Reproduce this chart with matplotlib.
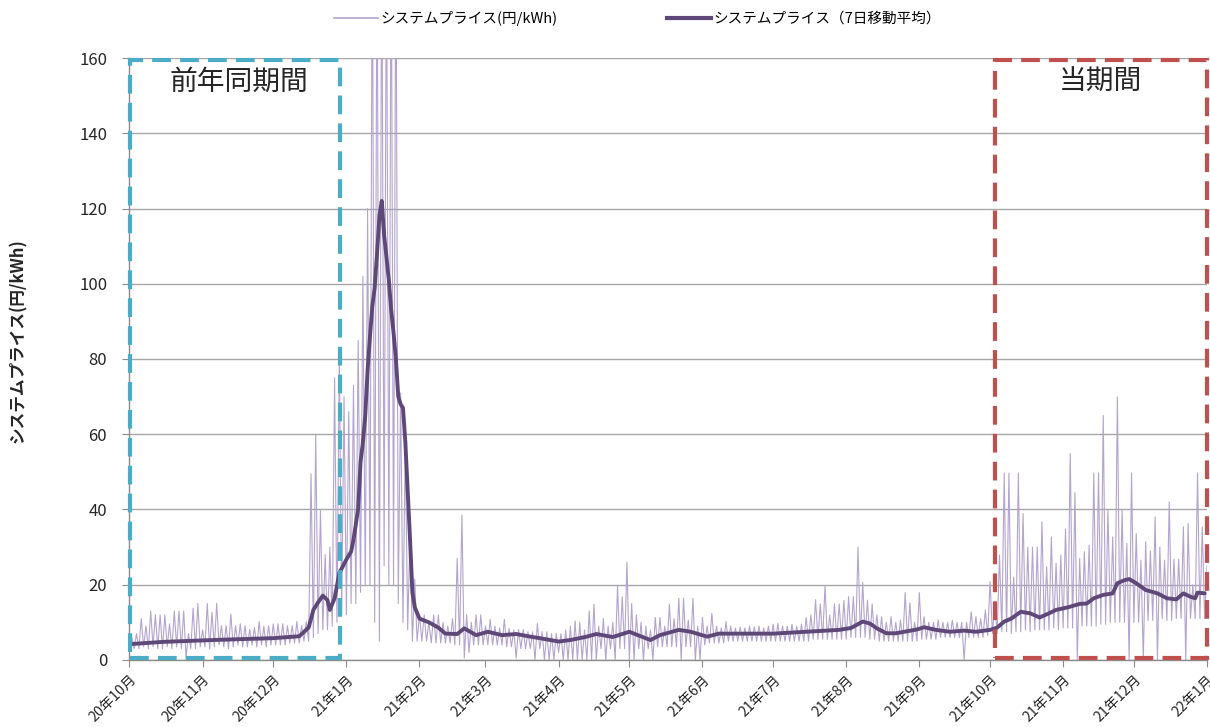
import matplotlib
matplotlib.use('Agg')
import matplotlib.pyplot as plt
import matplotlib.dates as mdates
import pandas as pd
from matplotlib.patches import Rectangle
from matplotlib.lines import Line2D

plt.rcParams['font.family'] = ['Noto Sans CJK JP', 'DejaVu Sans']

# ---- data: system price, 2-day buckets from 2020-10-01 (daily high / low) ----
hi_2020_10 = [6, 7, 11, 9, 13, 12, 12, 12, 9.6, 13, 13, 13, 7, 13.8, 15, 8]
hi_2020_11 = [15, 12.7, 15.1, 9.1, 9.1, 12.2, 9.1, 9.6, 9.1, 8.1, 8.6, 10.2, 9, 9.1, 9.6]
hi_2020_12 = [9.6, 9.6, 9.1, 9.1, 10.2, 9.1, 10.2, 49.5, 60, 39.7, 28, 30, 75, 80, 70]
hi_2021_01 = [66, 73, 85, 102, 120, 200, 200, 200, 200, 200, 200, 71, 58, 34, 21.5, 12]
hi_2021_02 = [12, 10, 12, 12, 10, 9, 11, 27, 38.5, 12, 10, 12, 12, 9]
hi_2021_03 = [10.8, 9, 8.5, 10.8, 8.4, 8, 8.1, 8.1, 7.5, 7.5, 9.7, 7.5, 7.5, 7, 7]
hi_2021_04 = [7, 8, 9, 10.4, 10, 8, 13, 14.8, 9, 11, 9, 10, 19.7, 16.8, 26]
hi_2021_05 = [15, 12, 10, 9, 8, 11.3, 11.3, 9, 14.8, 11, 16.4, 16.4, 10.6, 16.4, 9, 11.3]
hi_2021_06 = [9, 12.4, 9, 8.5, 10.2, 9, 8.5, 8.8, 8.5, 9, 8.8, 9, 8.5, 9, 9.5]
hi_2021_07 = [9.7, 9, 9, 9.5, 9, 9.5, 11.3, 12, 16, 14.9, 19.7, 12, 14.9, 14.9, 15.8, 16.8]
hi_2021_08 = [16.8, 30, 20.6, 15.9, 14.9, 12, 11.5, 10, 11.5, 10, 10.6, 17.9, 15.2, 10, 17.9]
hi_2021_09 = [11.5, 10, 10, 10.6, 10, 10, 10.6, 10, 10, 10, 12.8, 11.5, 11, 13.3, 20.8]
hi_2021_10 = [15, 27.9, 49.7, 49.7, 22, 49.7, 38.9, 30, 30, 30, 36.7, 24.8, 32.7, 25.7, 27.9, 34.8]
hi_2021_11 = [54.9, 44.5, 27, 28.8, 30.5, 49.7, 49.7, 65, 39.8, 32.7, 69.9, 39.8, 31, 49.7]
hi_2021_12 = [33.6, 26.5, 31.4, 29, 38, 30, 26.5, 42, 26.8, 26.8, 35.4, 36.3, 20, 49.7, 35.4, 25]

lo_2020_10 = [3.5, 3, 3, 3.5, 3, 3.5, 3, 3, 3.5, 3, 3.5, 3, 0.5, 3, 3, 3.5]
lo_2020_11 = [3.5, 3, 3.5, 4, 3.5, 3, 3.5, 4, 3.5, 3.5, 4, 3.5, 4, 3.5, 4]
lo_2020_12 = [4, 4, 4, 4.5, 4.5, 4.5, 5, 5, 6, 7, 8, 8, 9, 10, 12]
lo_2021_01 = [12, 15, 15, 18, 20, 20, 10, 5, 25, 20, 20, 15, 10, 8, 5, 5]
lo_2021_02 = [5, 5, 4.5, 4.5, 4.5, 4.5, 4.5, 4, 4, 0.5, 2, 4, 4, 4]
lo_2021_03 = [4, 4, 4, 4, 3.5, 3.5, 0.5, 3, 3, 3, 0, 3, 0, 0, 0]
lo_2021_04 = [2, 0, 0, 0, 0, 0, 0, 0, 0, 3, 0, 3, 0, 3, 3]
lo_2021_05 = [0, 0, 3, 0, 3, 0, 3.5, 3.5, 3.5, 3.5, 3.5, 0, 3.5, 3.5, 0, 0]
lo_2021_06 = [4, 4.5, 4.5, 4.5, 4.5, 5, 5, 5, 5, 5, 5, 5, 5, 5, 5]
lo_2021_07 = [5, 5, 5, 5, 5, 5, 5, 5, 5.5, 5.5, 5.5, 5.5, 5.5, 5.5, 5.5, 5.5]
lo_2021_08 = [6, 6, 6, 6, 5.5, 5.5, 5, 5, 5, 5, 5, 5, 5, 5, 5]
lo_2021_09 = [5.5, 5.5, 5.5, 5.5, 6, 6, 6, 6, 6, 0, 6, 6, 6, 6, 6.5]
lo_2021_10 = [7, 7, 7.5, 7.5, 7, 7.5, 7.5, 8, 7.5, 8, 8, 8, 8, 8.5, 8, 8.5]
lo_2021_11 = [8.5, 8.5, 0, 9, 9, 9, 9, 9.5, 9.5, 10, 10, 10, 10, 0]
lo_2021_12 = [10, 10, 0, 10.5, 10.5, 0, 11, 10.5, 10.5, 11, 11, 0, 11, 11, 11, 11]

# ---- 7-day moving average ----
ma_dates = ['2020-10-01', '2020-10-15', '2020-11-01', '2020-11-15', '2020-12-01', '2020-12-12',
            '2020-12-16', '2020-12-18', '2020-12-20', '2020-12-22', '2020-12-24', '2020-12-25',
            '2020-12-27', '2020-12-29', '2021-01-01', '2021-01-03', '2021-01-04', '2021-01-06',
            '2021-01-07', '2021-01-08', '2021-01-09', '2021-01-10', '2021-01-11', '2021-01-12',
            '2021-01-13', '2021-01-14', '2021-01-15', '2021-01-16', '2021-01-17', '2021-01-18',
            '2021-01-19', '2021-01-20', '2021-01-21', '2021-01-22', '2021-01-23', '2021-01-24',
            '2021-01-25', '2021-01-26', '2021-01-27', '2021-01-28', '2021-01-29', '2021-01-30',
            '2021-02-01', '2021-02-05', '2021-02-09', '2021-02-12', '2021-02-17', '2021-02-20',
            '2021-02-25', '2021-03-02', '2021-03-08', '2021-03-14', '2021-03-20', '2021-03-24',
            '2021-04-01', '2021-04-06', '2021-04-13', '2021-04-17', '2021-04-24', '2021-05-01',
            '2021-05-05', '2021-05-10', '2021-05-14', '2021-05-22', '2021-05-27', '2021-06-03',
            '2021-06-08', '2021-06-17', '2021-07-01', '2021-07-15', '2021-07-29', '2021-08-03',
            '2021-08-08', '2021-08-11', '2021-08-14', '2021-08-18', '2021-08-22', '2021-08-31',
            '2021-09-03', '2021-09-08', '2021-09-14', '2021-09-20', '2021-09-25', '2021-10-01',
            '2021-10-04', '2021-10-07', '2021-10-10', '2021-10-14', '2021-10-18', '2021-10-22',
            '2021-10-26', '2021-10-29', '2021-11-03', '2021-11-08', '2021-11-11', '2021-11-14',
            '2021-11-18', '2021-11-22', '2021-11-24', '2021-11-27', '2021-11-29', '2021-12-02',
            '2021-12-06', '2021-12-11', '2021-12-15', '2021-12-19', '2021-12-22', '2021-12-25',
            '2021-12-27', '2021-12-28', '2021-12-31']
ma_values = [4.2, 4.8, 5.2, 5.5, 5.8, 6.3,
             8.6, 13.3, 15.3, 17.1, 15.9, 13.3,
             16.4, 23.1, 26.7, 28.8, 31.9, 40.2,
             52.6, 57.8, 65, 77, 86, 94,
             99, 108, 118, 122, 113, 107,
             101, 93, 87, 80, 70, 68,
             67, 58, 45, 32, 18, 14,
             11, 10, 8.6, 7, 6.9, 8.4,
             6.6, 7.5, 6.6, 6.9, 6.2, 5.8,
             4.9, 5.3, 6.2, 6.9, 6.1, 7.5,
             6.5, 5.3, 6.6, 8, 7.5, 6.2,
             7, 7, 7, 7.5, 8, 8.5,
             10.2, 9.7, 8.4, 7.1, 7.1, 8.1,
             8.7, 8, 7.5, 7.8, 7.5, 8,
             8.6, 10.2, 11, 12.8, 12.4, 11.3,
             12.4, 13.3, 14, 14.9, 15, 16.4,
             17.3, 17.7, 20.4, 21.2, 21.5, 20.4,
             18.6, 17.7, 16.4, 16.1, 17.7, 16.8,
             16.4, 17.9, 17.7]

tick_labels = ['20年10月', '20年11月', '20年12月', '21年1月', '21年2月', '21年3月', '21年4月',
               '21年5月', '21年6月', '21年7月', '21年8月', '21年9月', '21年10月', '21年11月',
               '21年12月', '22年1月']
legend_labels = ['システムプライス(円/kWh)', 'システムプライス（7日移動平均）']
box_labels = ['前年同期間', '当期間']

# ---- build series ----
price_hi = (hi_2020_10 + hi_2020_11 + hi_2020_12 + hi_2021_01 + hi_2021_02 + hi_2021_03 +
            hi_2021_04 + hi_2021_05 + hi_2021_06 + hi_2021_07 + hi_2021_08 + hi_2021_09 +
            hi_2021_10 + hi_2021_11 + hi_2021_12)
price_lo = (lo_2020_10 + lo_2020_11 + lo_2020_12 + lo_2021_01 + lo_2021_02 + lo_2021_03 +
            lo_2021_04 + lo_2021_05 + lo_2021_06 + lo_2021_07 + lo_2021_08 + lo_2021_09 +
            lo_2021_10 + lo_2021_11 + lo_2021_12)
start = pd.Timestamp('2020-10-01')
end = pd.Timestamp('2022-01-01')
buckets = pd.date_range(start, periods=len(price_hi), freq='2D')
xs, ys = [], []
for d, lo, hi in zip(buckets, price_lo, price_hi):
    xs += [d, d + pd.Timedelta(days=1)]
    ys += [lo, hi]

light = '#b3a4d0'
dark = '#5e4878'

fig = plt.figure(figsize=(12.1, 7.27), dpi=100)
ax = fig.add_axes([0.107, 0.0922, 0.8905, 0.828])

ax.plot(xs, ys, color=light, lw=0.8, zorder=2)
ax.plot(pd.to_datetime(ma_dates), ma_values, color=dark, lw=2.8, zorder=3,
        solid_joinstyle='round', solid_capstyle='round')

ax.set_xlim(start, end)
ax.set_ylim(0, 160)
ax.set_yticks(range(0, 161, 20))
ax.yaxis.grid(True, color='#a6a6a6', lw=1.0)
ax.set_axisbelow(True)
for s in ['top', 'right']:
    ax.spines[s].set_visible(False)
for s in ['left', 'bottom']:
    ax.spines[s].set_color('#8c8c8c')
    ax.spines[s].set_linewidth(1.0)

month_ticks = pd.date_range(start, end, freq='MS')
ax.set_xticks(month_ticks)
ax.set_xticklabels(tick_labels, rotation=45, ha='right', rotation_mode='anchor', fontsize=10.2,
                   color='#262626')
ax.tick_params(axis='x', length=5, color='#8c8c8c', pad=4)
ax.tick_params(axis='y', length=5, color='#8c8c8c', labelsize=12, labelcolor='#262626', pad=11)

ax.set_ylabel('システムプライス(円/kWh)', fontsize=12, fontweight='bold', color='#262626')
ax.yaxis.set_label_coords(-0.095, 0.53)

# period boxes
d0 = mdates.date2num(start)
ax.add_patch(Rectangle((d0 + 0.4, 0.6), 89.0, 159.0, fill=False, ec='#4bacc6', lw=3,
                       ls=(0, (4.5, 2.2)), clip_on=False, zorder=5))
ax.add_patch(Rectangle((d0 + 367.2, 0.6), 89.6, 159.0, fill=False, ec='#c0504d', lw=3,
                       ls=(0, (4.5, 2.2)), clip_on=False, zorder=5))
ax.text(d0 + 46.5, 153.6, box_labels[0], fontsize=20, ha='center', va='center', color='#262626')
ax.text(d0 + 411.8, 153.6, box_labels[1], fontsize=20, ha='center', va='center', color='#262626')

handles = [Line2D([], [], color=light, lw=1.2), Line2D([], [], color=dark, lw=3)]
fig.legend(handles, legend_labels, loc='center', bbox_to_anchor=(0.527, 0.975), ncol=2,
           frameon=False, fontsize=10.5, handlelength=3.0, handletextpad=0.2, columnspacing=7.5)

fig.savefig('out.png', dpi=100)
